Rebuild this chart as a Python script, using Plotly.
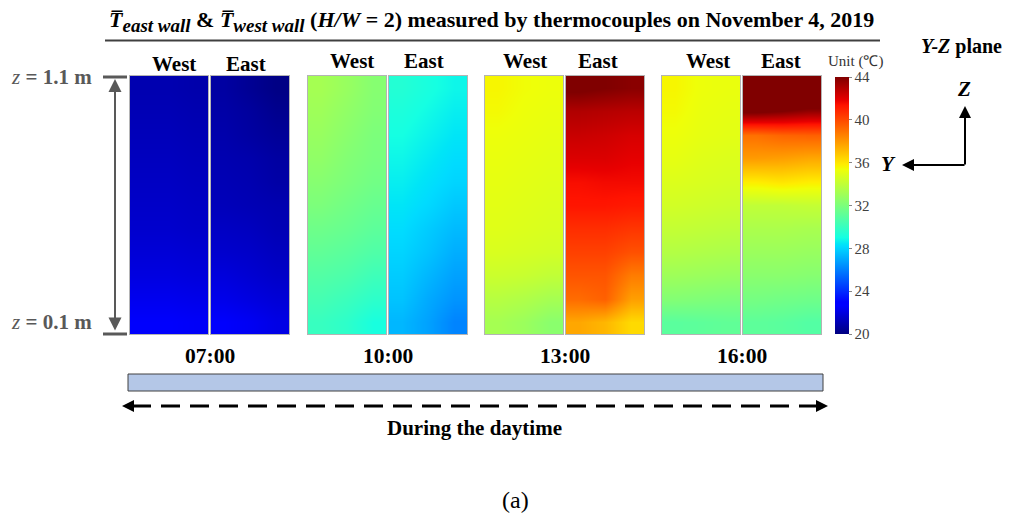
import numpy as np
import plotly.graph_objects as go

W, H = 1029, 521

# Thermocouple grid: heights (m, top to bottom) and three columns across each wall
heights = [1.1, 1.0, 0.9, 0.8, 0.7, 0.6, 0.5, 0.4, 0.3, 0.2, 0.1]
columns = [1, 2, 3]

times = ["07:00", "10:00", "13:00", "16:00"]
walls = ["West", "East"]

# Mean wall temperatures (°C), rows follow `heights`, columns follow `columns`
west_0700 = [[21.0, 21.0, 20.9], [21.1, 21.1, 21.0], [21.2, 21.2, 21.1], [21.3, 21.3, 21.2],
             [21.4, 21.4, 21.3], [21.5, 21.5, 21.4], [21.6, 21.6, 21.5], [21.8, 21.8, 21.7],
             [22.0, 22.0, 21.9], [22.3, 22.3, 22.2], [22.6, 22.6, 22.5]]
east_0700 = [[20.7, 20.4, 20.1], [20.8, 20.6, 20.3], [20.9, 20.7, 20.5], [21.0, 20.9, 20.7],
             [21.1, 21.0, 20.8], [21.2, 21.1, 21.0], [21.4, 21.3, 21.1], [21.6, 21.5, 21.3],
             [21.9, 21.7, 21.5], [22.2, 22.0, 21.8], [22.6, 22.4, 22.1]]
west_1000 = [[33.2, 32.8, 32.3], [33.0, 32.6, 32.2], [32.8, 32.4, 32.0], [32.6, 32.2, 31.9],
             [32.3, 32.0, 31.7], [32.0, 31.7, 31.4], [31.6, 31.4, 31.1], [31.2, 31.0, 30.7],
             [30.8, 30.6, 30.2], [30.4, 30.1, 29.7], [30.0, 29.7, 29.1]]
east_1000 = [[29.4, 29.1, 28.8], [29.2, 28.9, 28.6], [29.0, 28.7, 28.4], [28.8, 28.5, 28.2],
             [28.6, 28.3, 28.0], [28.4, 28.1, 27.7], [28.2, 27.8, 27.4], [28.0, 27.6, 27.1],
             [27.8, 27.3, 26.8], [27.6, 27.0, 26.5], [27.3, 26.8, 26.1]]
west_1300 = [[35.6, 35.4, 35.3], [35.5, 35.3, 35.2], [35.3, 35.2, 35.1], [35.2, 35.1, 35.0],
             [35.1, 35.0, 34.9], [35.0, 34.9, 34.8], [34.9, 34.8, 34.7], [34.7, 34.6, 34.5],
             [34.3, 34.2, 34.0], [33.7, 33.5, 33.2], [33.2, 32.9, 32.4]]
east_1300 = [[44.2, 44.0, 43.8], [43.0, 42.9, 42.8], [42.5, 42.4, 42.2], [42.1, 42.1, 41.9],
             [41.5, 41.6, 41.6], [41.3, 41.3, 41.2], [40.7, 40.7, 40.5], [40.2, 40.2, 39.8],
             [39.7, 39.7, 38.7], [39.1, 39.4, 37.8], [37.6, 37.2, 36.3]]
west_1600 = [[35.6, 35.3, 35.2], [35.5, 35.2, 35.1], [35.3, 35.1, 35.0], [35.1, 34.9, 34.8],
             [34.8, 34.7, 34.6], [34.5, 34.4, 34.3], [34.1, 34.0, 33.9], [33.6, 33.5, 33.4],
             [33.0, 32.9, 32.8], [32.2, 32.1, 32.0], [31.0, 31.1, 31.2]]
east_1600 = [[47.0, 47.0, 47.0], [44.3, 44.0, 43.6], [39.0, 39.3, 39.4], [37.9, 37.8, 37.6],
             [35.8, 36.0, 35.8], [34.0, 34.0, 34.1], [33.4, 33.4, 33.3], [32.9, 32.9, 32.8],
             [32.4, 32.4, 32.3], [31.8, 31.7, 31.6], [31.1, 31.0, 30.8]]

panels = [west_0700, east_0700, west_1000, east_1000,
          west_1300, east_1300, west_1600, east_1600]

color_ticks = [20, 24, 28, 32, 36, 40, 44]

# Jet colour map
jet_r = ([0, 0.35, 0.66, 0.89, 1], [0, 0, 1, 1, 0.5])
jet_g = ([0, 0.125, 0.375, 0.64, 0.91, 1], [0, 0, 1, 1, 0, 0])
jet_b = ([0, 0.11, 0.34, 0.65, 1], [0.5, 1, 1, 0, 0])
stops = sorted(set(jet_r[0] + jet_g[0] + jet_b[0]))
jet = []
for s in stops:
    r = np.interp(s, *jet_r)
    g = np.interp(s, *jet_g)
    b = np.interp(s, *jet_b)
    jet.append([s, f"rgb({round(r*255)},{round(g*255)},{round(b*255)})"])

SERIF = "Liberation Serif, Times New Roman, serif"


def px(x):
    return x / W


def py(y):
    return 1 - y / H


def label(x, y, text, size, color="black", anchor="center"):
    """Paper-anchored text placed at a pixel position."""
    return dict(x=px(x), y=py(y), xref="paper", yref="paper", text=text,
                showarrow=False, xanchor=anchor, yanchor="middle",
                font=dict(family=SERIF, size=size, color=color))


def arrow(head, tail, color, width=2, size=1.2, both=False):
    """Arrow annotation between two pixel positions (head gets the arrowhead)."""
    return dict(x=px(head[0]), y=py(head[1]), xref="paper", yref="paper",
                ax=tail[0] - head[0], ay=tail[1] - head[1], text="", showarrow=True,
                arrowside="end+start" if both else "end", arrowhead=2,
                arrowsize=size, arrowwidth=width, arrowcolor=color,
                standoff=0, startstandoff=0)


# Panel placement (pixel edges)
panel_x = [(130, 208), (211, 289), (308, 386), (389, 467),
           (485, 563), (566, 644), (662, 740), (743, 821)]
panel_top, panel_bottom = 76, 334

fig = go.Figure()
layout_axes = {}
for i, (z, (x0, x1)) in enumerate(zip(panels, panel_x), start=1):
    fig.add_trace(go.Heatmap(
        z=z, x=columns, y=heights, zsmooth="best",
        coloraxis="coloraxis", xaxis=f"x{i}", yaxis=f"y{i}",
        hovertemplate="z=%{y} m<br>%{z:.1f} °C<extra></extra>",
    ))
    ax_style = dict(showgrid=False, zeroline=False, showticklabels=False, ticks="",
                    showline=True, mirror=True, linecolor="#b4b4b4", linewidth=1)
    layout_axes[f"xaxis{i}"] = dict(domain=[px(x0), px(x1)], anchor=f"y{i}", **ax_style)
    layout_axes[f"yaxis{i}"] = dict(domain=[py(panel_bottom), py(panel_top)],
                                    anchor=f"x{i}", **ax_style)

fig.update_layout(**layout_axes)

fig.update_layout(
    width=W, height=H,
    margin=dict(l=0, r=0, t=0, b=0),
    paper_bgcolor="white", plot_bgcolor="white",
    showlegend=False,
    coloraxis=dict(
        colorscale=jet, cmin=20, cmax=44,
        colorbar=dict(
            x=px(835), xanchor="left", xpad=0,
            y=py(77), yanchor="top", ypad=0,
            thickness=14, len=257, lenmode="pixels",
            tickvals=color_ticks, ticks="outside", ticklen=3, tickcolor="#888",
            tickfont=dict(family=SERIF, size=15, color="#404040"),
            outlinewidth=0,
        ),
    ),
)

ann = []
shapes = []

# Title and rule
sub = '<sub><span style="font-size:19px"><b><i>{}</i></b></span></sub>'
title = ("<b><i>T̅</i></b>" + sub.format("east wall") + " <b>&</b> "
         "<b><i>T̅</i></b>" + sub.format("west wall") + " "
         "<b>(<i>H/W</i> = 2) measured by thermocouples on November 4, 2019</b>")
ann.append(label(107, 21, title, 22, anchor="left"))
shapes.append(dict(type="line", xref="paper", yref="paper", x0=px(105), x1=px(880),
                   y0=py(40.5), y1=py(40.5), line=dict(color="#404040", width=2)))

# Wall labels above each panel
label_x = [174, 246, 352, 424, 525, 598, 708, 781]
label_y = [64, 64, 61, 61, 61, 61, 61, 61]
for k, (lx, ly) in enumerate(zip(label_x, label_y)):
    ann.append(label(lx, ly, f"<b>{walls[k % 2]}</b>", 21))

# Time labels
for k, t in enumerate(times):
    cx = (panel_x[2 * k][0] + panel_x[2 * k + 1][1]) / 2
    ann.append(label(cx, 356, f"<b>{t}</b>", 21.5))

# Height markers on the left
gray = "#595959"
for lbl, yy in [("1.1", 77), ("0.1", 322)]:
    ann.append(label(94, yy, f"<i>z</i> <b>= {lbl} m</b>", 21, color=gray, anchor="right"))
for yy in (77, 334):
    shapes.append(dict(type="line", xref="paper", yref="paper", x0=px(103), x1=px(127),
                       y0=py(yy), y1=py(yy), line=dict(color=gray, width=3)))
ann.append(arrow((115, 79), (115, 332), gray, width=2, size=1.3, both=True))

# Daytime bar and dashed arrow
shapes.append(dict(type="rect", xref="paper", yref="paper", x0=px(128), x1=px(823),
                   y0=py(391), y1=py(374), fillcolor="#B4C7E7",
                   line=dict(color="#404040", width=1)))
shapes.append(dict(type="line", xref="paper", yref="paper", x0=px(132), x1=px(818),
                   y0=py(406), y1=py(406),
                   line=dict(color="black", width=3, dash="19px,10px")))
ann.append(arrow((122, 406), (134, 406), "black"))
ann.append(arrow((828, 406), (816, 406), "black"))
ann.append(label(474, 428, "<b>During the daytime</b>", 21))

# Colour bar unit
ann.append(label(855, 61, "Unit (℃)", 15, color="#333333"))

# Orientation key
ann.append(label(961, 46, "<b><i>Y-Z</i> plane</b>", 20))
ann.append(arrow((965, 106), (965, 166), "black"))
ann.append(arrow((902, 165), (966, 165), "black"))
ann.append(label(964, 89, "<b><i>Z</i></b>", 21))
ann.append(label(888, 164, "<b><i>Y</i></b>", 21))

# Sub-figure label
ann.append(label(515, 500, "(a)", 24))

fig.update_layout(annotations=ann, shapes=shapes)
fig.write_html("out.html")
